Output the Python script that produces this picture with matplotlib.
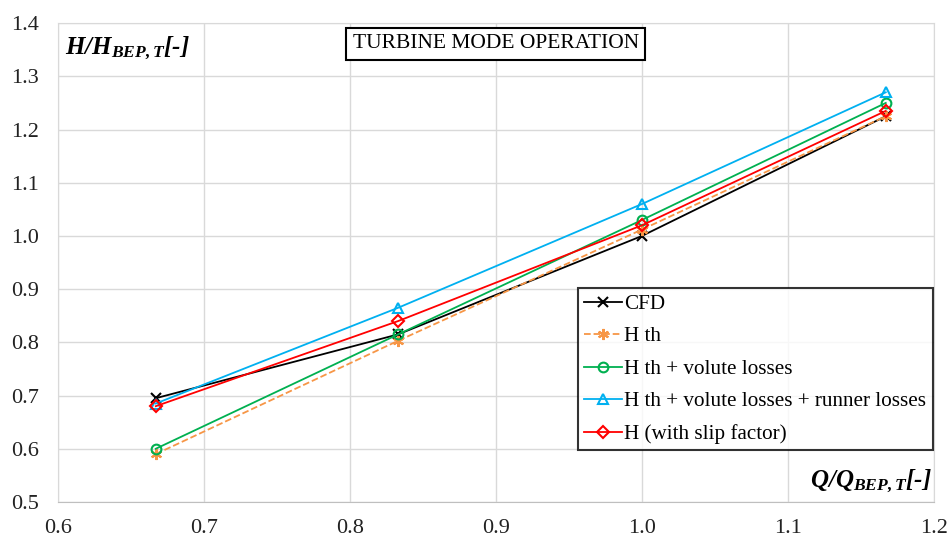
import matplotlib
matplotlib.use('Agg')
import matplotlib.pyplot as plt

plt.rcParams['font.family'] = ['Liberation Serif', 'DejaVu Serif']
plt.rcParams['mathtext.fontset'] = 'custom'
plt.rcParams['mathtext.rm'] = 'Liberation Serif:italic:bold'
plt.rcParams['mathtext.it'] = 'Liberation Serif:italic:bold'
plt.rcParams['mathtext.bf'] = 'Liberation Serif:italic:bold'

# ── Data ──────────────────────────────────────────────────────────────
q = [0.667, 0.833, 1.0, 1.167]
h_cfd = [0.695, 0.815, 1.000, 1.225]
h_th = [0.590, 0.803, 1.012, 1.225]
h_volute = [0.600, 0.815, 1.030, 1.250]
h_runner = [0.685, 0.865, 1.060, 1.270]
h_slip = [0.680, 0.840, 1.020, 1.235]

labels = ['CFD', 'H th', 'H th + volute losses',
          'H th + volute losses + runner losses', 'H (with slip factor)']

fig = plt.figure(figsize=(9.47, 5.38), dpi=100)
ax = fig.add_axes([0.0612, 0.067, 0.925, 0.890])

ax.plot(q, h_cfd, '-', color='black', lw=1.3, marker='x', ms=7, mew=1.5,
        label=labels[0])
ax.plot(q, h_th, '--', color='#F79646', lw=1.3, marker=(6, 2, 0), ms=8,
        mew=1.5, label=labels[1])
ax.plot(q, h_volute, '-', color='#00B050', lw=1.3, marker='o', ms=7,
        mfc='none', mew=1.5, label=labels[2])
ax.plot(q, h_runner, '-', color='#00B0F0', lw=1.3, marker='^', ms=7,
        mfc='none', mew=1.5, label=labels[3])
ax.plot(q, h_slip, '-', color='#FF0000', lw=1.3, marker='D', ms=6,
        mfc='none', mew=1.5, label=labels[4])

ax.set_xlim(0.6, 1.2)
ax.set_ylim(0.5, 1.4)
ax.set_xticks([0.6, 0.7, 0.8, 0.9, 1.0, 1.1, 1.2])
ax.set_yticks([0.5, 0.6, 0.7, 0.8, 0.9, 1.0, 1.1, 1.2, 1.3, 1.4])
ax.xaxis.set_major_formatter(matplotlib.ticker.FormatStrFormatter('%.1f'))
ax.yaxis.set_major_formatter(matplotlib.ticker.FormatStrFormatter('%.1f'))
ax.tick_params(length=0, labelsize=16, colors='#222222')
ax.tick_params(axis='x', pad=12)
ax.tick_params(axis='y', pad=14)
ax.grid(True, color='#d9d9d9', lw=1.0)
ax.set_axisbelow(True)
for s in ax.spines.values():
    s.set_color('#d9d9d9')
ax.spines['bottom'].set_color('#bfbfbf')

ax.text(0.008, 0.975, r'$H/H_{BEP,T}[$-$]$', fontstyle='italic',
        fontweight='bold', transform=ax.transAxes, ha='left', va='top',
        fontsize=18)
ax.text(0.998, 0.015, r'$Q/Q_{BEP,T}[$-$]$', fontstyle='italic',
        fontweight='bold', transform=ax.transAxes, ha='right', va='bottom',
        fontsize=18)
ax.text(0.5, 0.957, 'TURBINE MODE OPERATION', transform=ax.transAxes,
        ha='center', va='center', fontsize=15.5,
        bbox=dict(boxstyle='square,pad=0.3', fc='white', ec='black', lw=1.5))

leg = ax.legend(loc='lower right', bbox_to_anchor=(0.9985, 0.108),
                fontsize=15.2, frameon=True, fancybox=False, handlelength=1.8,
                handletextpad=0.1, borderpad=0.3, labelspacing=0.6,
                borderaxespad=0)
leg.get_frame().set_edgecolor('black')
leg.get_frame().set_linewidth(1.5)

fig.savefig('out.png', dpi=100)
